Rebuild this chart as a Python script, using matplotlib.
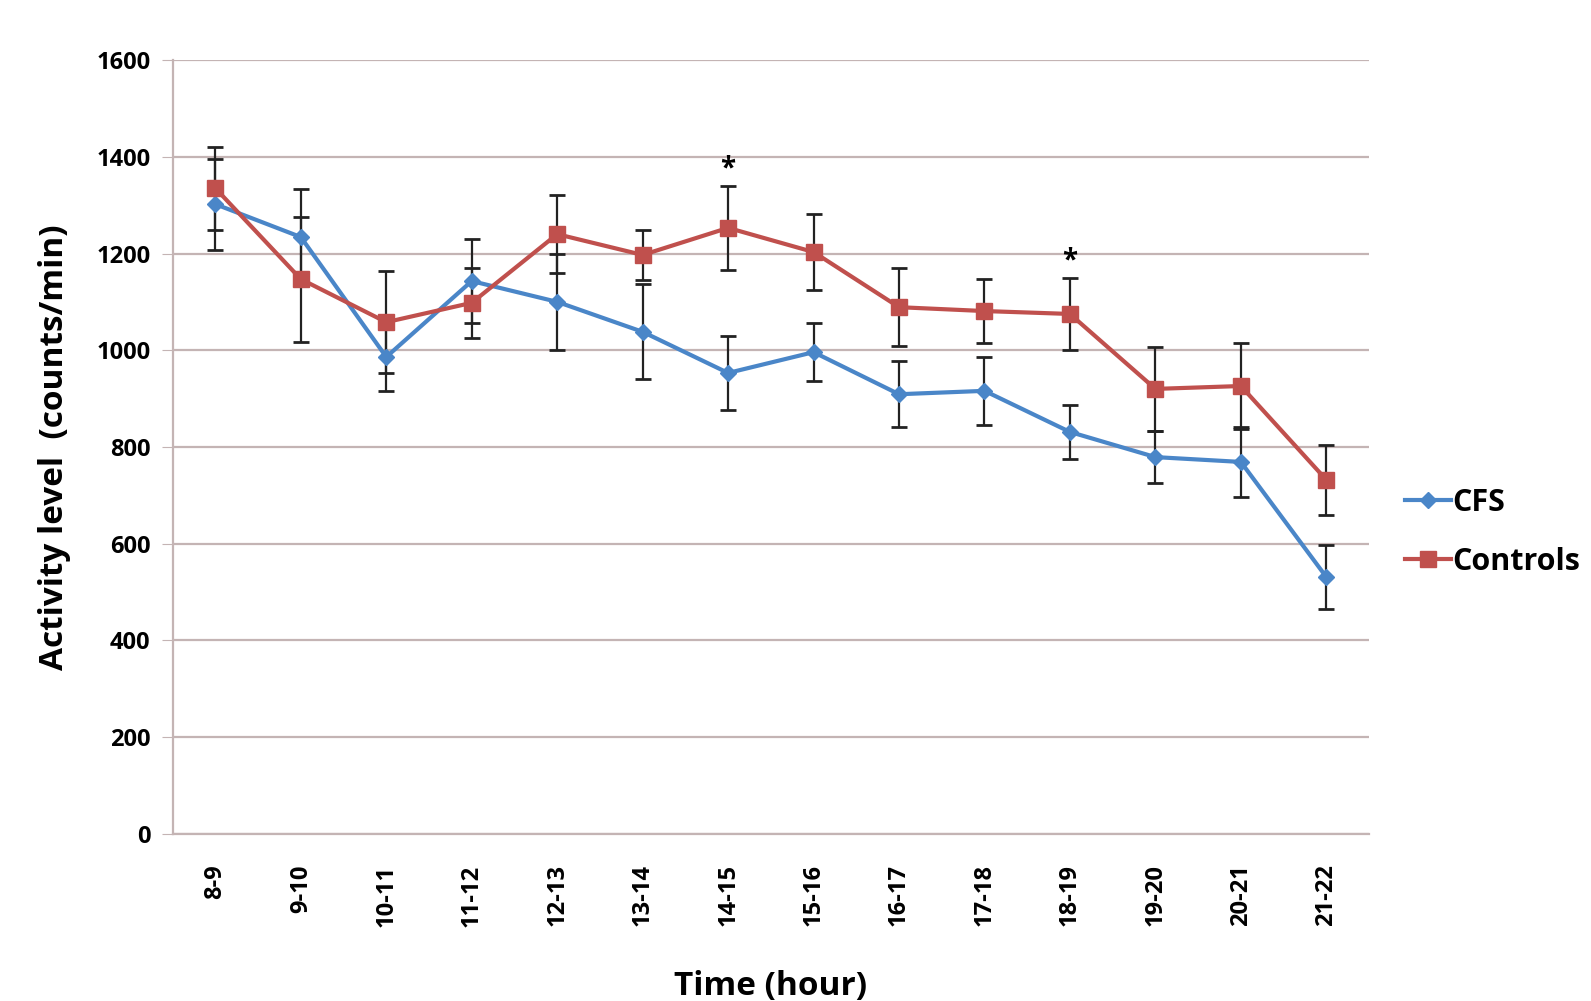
import numpy as np
import matplotlib
matplotlib.use("Agg")
import matplotlib.pyplot as plt

plt.rcParams['font.family'] = ['Open Sans', 'DejaVu Sans']

#-----DATA--------------------------------------------------------
hours = ["8-9", "9-10", "10-11", "11-12", "12-13", "13-14", "14-15",
         "15-16", "16-17", "17-18", "18-19", "19-20", "20-21", "21-22"]
cfs = [1302, 1234, 986, 1143, 1100, 1038, 953, 996, 909, 916, 831, 779, 769, 531]
cfs_err = [94, 99, 70, 87, 100, 98, 77, 60, 68, 70, 55, 54, 72, 66]
controls = [1335, 1147, 1058, 1098, 1240, 1197, 1253, 1203, 1089, 1081, 1075, 920, 926, 732]
controls_err = [86, 129, 105, 72, 81, 51, 87, 78, 80, 67, 74, 87, 89, 72]
star_idx = [6, 10]  # significant differences
#-----/DATA-------------------------------------------------------

blue = "#4a86c8"
red = "#c0504d"
grid_col = "#c4b4b4"

fig = plt.figure(figsize=(15.91, 10.01), dpi=100)
ax = fig.add_axes([0.1085, 0.167, 0.752, 0.773])

x = np.arange(len(hours))

ax.errorbar(x, cfs, yerr=cfs_err, fmt="none", ecolor="#222222", elinewidth=1.6,
            capsize=6, capthick=2, zorder=2)
ax.errorbar(x, controls, yerr=controls_err, fmt="none", ecolor="#222222", elinewidth=1.6,
            capsize=6, capthick=2, zorder=2)
ax.plot(x, cfs, color=blue, lw=3, marker="D", markersize=8, label="CFS", zorder=3)
ax.plot(x, controls, color=red, lw=3, marker="s", markersize=12, label="Controls", zorder=4)

for i in star_idx:
    ax.text(x[i], controls[i] + controls_err[i] + 5, "*", ha="center", va="bottom",
            fontsize=20, fontweight="bold")

ax.set_xlim(-0.5, len(hours) - 0.5)
ax.set_ylim(0, 1600)
ax.set_yticks(np.arange(0, 1601, 200))
ax.set_xticks(x)
ax.set_xticklabels(hours, rotation=90, fontsize=17, fontweight="bold")
for lab in ax.get_yticklabels():
    lab.set_fontsize(17)
    lab.set_fontweight("bold")
ax.yaxis.grid(True, color=grid_col, lw=1.6)
ax.set_axisbelow(True)
for s in ["top", "right"]:
    ax.spines[s].set_visible(False)
ax.spines["left"].set_color(grid_col)
ax.spines["bottom"].set_color(grid_col)
ax.spines["left"].set_linewidth(1.6)
ax.spines["bottom"].set_linewidth(1.6)
ax.tick_params(axis="y", length=8, color=grid_col, pad=8)
ax.tick_params(axis="x", length=0, pad=22)

ax.set_ylabel("Activity level  (counts/min)", fontsize=24, fontweight="bold", labelpad=18)
ax.set_xlabel("Time (hour)", fontsize=24, fontweight="bold", labelpad=31)

ax.legend(loc="center left", bbox_to_anchor=(1.012, 0.39), frameon=False,
          prop={"weight": "bold", "size": 22}, handlelength=1.5,
          handletextpad=0.05, labelspacing=0.95, borderpad=0.2)

fig.savefig("out.png", dpi=100)
